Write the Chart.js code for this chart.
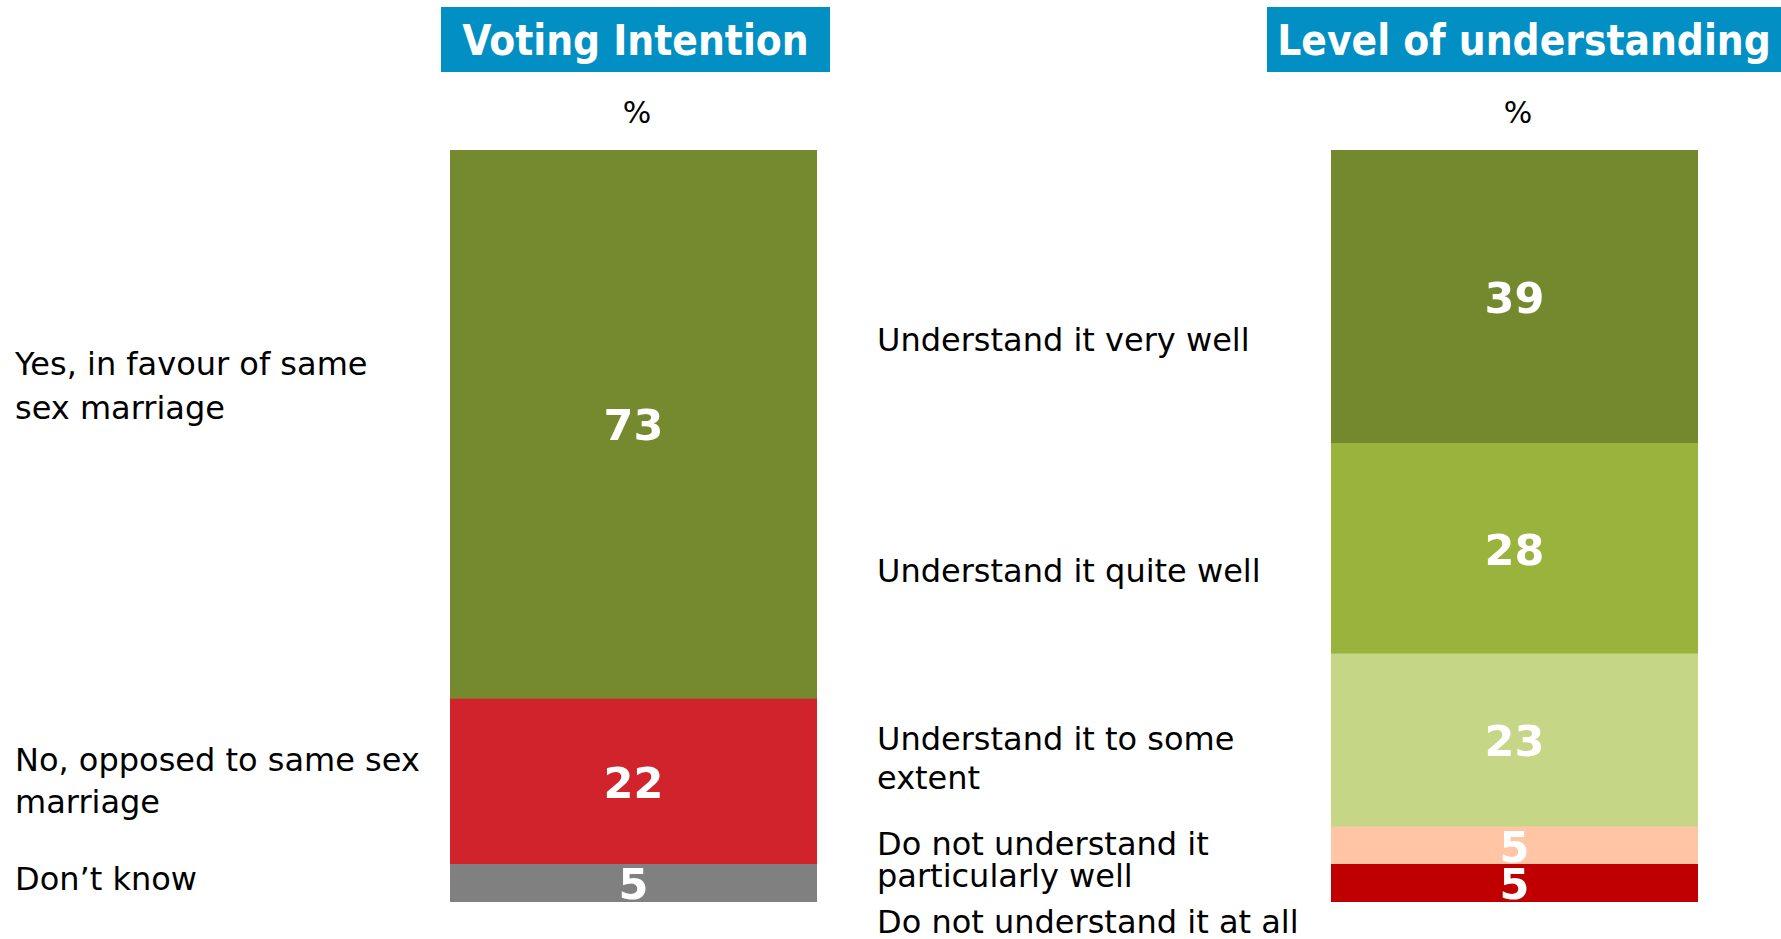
<!DOCTYPE html>
<html>
<head>
<meta charset="utf-8">
<script src="https://cdn.jsdelivr.net/npm/chart.js@4"></script>
<style>
  html, body { margin:0; padding:0; background:#fff; }
  body { width:1781px; height:939px; position:relative; overflow:hidden; font-family:'DejaVu Sans', Verdana, sans-serif; color:#000; }
  .hdr { position:absolute; top:7px; height:65px; line-height:67px; background:#018FC4; color:#fff; text-align:center;
         font-family:'DejaVu Sans Condensed','DejaVu Sans',sans-serif; font-stretch:condensed; font-weight:bold; font-size:42px; white-space:nowrap; }
  .pct { position:absolute; width:200px; text-align:center; font-size:30px; line-height:44px; top:91px; }
  .lbl { position:absolute; font-size:32px; white-space:nowrap; }
  .box { position:absolute; }
</style>
</head>
<body>
<div class="hdr" style="left:441px;width:389px;">Voting Intention</div>
<div class="hdr" style="left:1267px;width:514px;">Level of understanding</div>
<div class="pct" style="left:537px;">%</div>
<div class="pct" style="left:1418px;">%</div>

<div class="lbl" style="left:15px;top:342px;line-height:44px;">Yes, in favour of same<br>sex marriage</div>
<div class="lbl" style="left:15px;top:739px;line-height:42px;">No, opposed to same sex<br>marriage</div>
<div class="lbl" style="left:15px;top:857px;line-height:44px;">Don’t know</div>

<div class="lbl" style="left:877px;top:318px;line-height:44px;">Understand it very well</div>
<div class="lbl" style="left:877px;top:549px;line-height:44px;">Understand it quite well</div>
<div class="lbl" style="left:877px;top:720px;line-height:39px;">Understand it to some<br>extent</div>
<div class="lbl" style="left:877px;top:828px;line-height:32px;">Do not understand it<br>particularly well</div>
<div class="lbl" style="left:877px;top:900px;line-height:44px;">Do not understand it at all</div>

<div class="box" style="left:450px;top:150px;width:367px;height:752px;"><canvas id="c1"></canvas></div>
<div class="box" style="left:1331px;top:150px;width:367px;height:752px;"><canvas id="c2"></canvas></div>

<script>
// ---- Data ----
const votingCategories = ["Don’t know", "No, opposed to same sex marriage", "Yes, in favour of same sex marriage"];
const votingValues = [5, 22, 73];
const votingColors = ["#808080", "#D0232B", "#75892E"];

const understandingCategories = ["Do not understand it at all", "Do not understand it particularly well", "Understand it to some extent", "Understand it quite well", "Understand it very well"];
const understandingValues = [5, 5, 23, 28, 39];
const understandingColors = ["#C00000", "#FFC5A5", "#C5D687", "#9AB33D", "#74882E"];

const valueLabels = {
  id: 'valueLabels',
  afterDatasetsDraw(chart) {
    const ctx = chart.ctx;
    ctx.save();
    ctx.fillStyle = '#ffffff';
    ctx.font = "bold 43px 'DejaVu Sans', sans-serif";
    ctx.textAlign = 'center';
    ctx.textBaseline = 'alphabetic';
    chart.data.datasets.forEach((ds, i) => {
      const meta = chart.getDatasetMeta(i);
      meta.data.forEach((el, j) => {
        const v = ds.data[j];
        if (v == null) return;
        const cy = (el.y + el.base) / 2;
        ctx.fillText(String(v), el.x, cy + 16);
      });
    });
    ctx.restore();
  }
};

function makeChart(id, cats, vals, cols) {
  const datasets = cats.map((c, i) => ({
    label: c,
    data: [vals[i]],
    backgroundColor: cols[i],
    borderWidth: 0,
    barPercentage: 1,
    categoryPercentage: 1
  }));
  return new Chart(document.getElementById(id), {
    type: 'bar',
    data: { labels: ['%'], datasets },
    options: {
      responsive: true,
      maintainAspectRatio: false,
      animation: false,
      layout: { padding: 0 },
      plugins: { legend: { display: false }, tooltip: { enabled: false } },
      scales: {
        x: { display: false, stacked: true },
        y: { display: false, stacked: true, min: 0, max: 100 }
      }
    },
    plugins: [valueLabels]
  });
}

makeChart('c1', votingCategories, votingValues, votingColors);
makeChart('c2', understandingCategories, understandingValues, understandingColors);
</script>
</body>
</html>
